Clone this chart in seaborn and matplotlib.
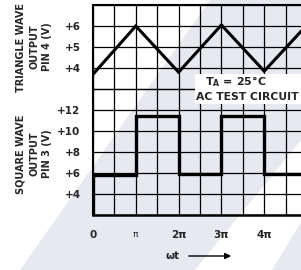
import matplotlib
matplotlib.use("Agg")
import matplotlib.pyplot as plt
from matplotlib import font_manager
from matplotlib.patches import Rectangle, Polygon, FancyArrowPatch
import numpy as np
import seaborn as sns

# time axis in units of pi
tri_x = [0, 1, 2, 3, 4, 5]
tri_y = [3.7, 6.0, 3.8, 6.05, 3.85, 6.05]

sq_edges = [0, 1, 2, 3, 4, 5]
sq_levels = [5.85, 11.4, 5.9, 11.4, 5.9]

x_ticks = [0, 1, 2, 3, 4]
x_labels = ["0", "π", "2π", "3π", "4π"]
tri_ticks = [4, 5, 6]
sq_ticks = [4, 6, 8, 10, 12]

sns.set_style("white")
names = {f.name for f in font_manager.fontManager.ttflist}
narrow = "Liberation Sans Narrow" if "Liberation Sans Narrow" in names else "DejaVu Sans"
plt.rcParams.update({
    "font.family": [narrow, "DejaVu Sans"], "font.weight": "bold", "font.size": 9,
    "mathtext.fontset": "custom", "mathtext.rm": f"{narrow}:bold",
})
FS = 9 if narrow != "DejaVu Sans" else 7.5

W, H = 301, 270
fig = plt.figure(figsize=(W / 100, H / 100), dpi=100)


def px(x0, y0, x1, y1):
    return [x0 / W, 1 - y1 / H, (x1 - x0) / W, (y1 - y0) / H]


def pt(x, y):
    return (x / W, 1 - y / H)


# faint scan watermark behind the chart
for verts in ([(20, 270), (210, 0), (301, 0), (301, 140), (195, 270)],
              [(272, 270), (301, 222), (301, 270)]):
    fig.add_artist(Polygon([pt(*v) for v in verts], closed=True, transform=fig.transFigure,
                           facecolor="#e7e9f1", edgecolor="none", zorder=-5))

ax_t = fig.add_axes(px(93, 5, 307, 89))
ax_s = fig.add_axes(px(93, 89, 307, 215))

for ax in (ax_t, ax_s):
    ax.set_facecolor("none")
    ax.set_xlim(0, 5)
    ax.set_xticks(np.arange(0, 5.01, 0.5))
    ax.grid(True, color="black", linewidth=0.9)
    ax.tick_params(length=0, pad=9, labelsize=FS)
    for s in ax.spines.values():
        s.set_color("black")
    ax.spines["right"].set_visible(False)

ax_t.set_ylim(3, 7)
ax_t.set_yticks([3, 4, 5, 6, 7])
ax_t.set_yticklabels(["" if v not in tri_ticks else f"+{v}" for v in [3, 4, 5, 6, 7]])
ax_t.set_xticklabels([])
ax_t.spines["left"].set_linewidth(1.5)
ax_t.spines["top"].set_linewidth(1.5)
ax_t.spines["bottom"].set_linewidth(0.9)
ax_t.plot(tri_x, tri_y, color="black", linewidth=2.2, solid_joinstyle="miter")

ax_s.set_ylim(2, 14)
ax_s.set_yticks(np.arange(2, 14.1, 2))
ax_s.set_yticklabels(["" if v not in sq_ticks else f"+{v}" for v in np.arange(2, 15, 2)])
ax_s.spines["top"].set_visible(False)
ax_s.spines["left"].set_linewidth(1.5)
ax_s.spines["bottom"].set_linewidth(1.8)
ax_s.stairs(sq_levels, sq_edges, color="black", linewidth=2.4)
labels = []
for v in np.arange(0, 5.01, 0.5):
    labels.append(x_labels[int(v)] if v in x_ticks else "")
ax_s.set_xticklabels(labels, fontsize=FS)
ax_s.tick_params(axis="x", pad=11)
for lab in ax_s.get_xticklabels():
    if lab.get_text() == "π":
        lab.set_fontweight("normal")
        lab.set_fontsize(FS - 1)

fig.text(34 / W, 1 - 47 / H, "TRIANGLE WAVE\nOUTPUT\nPIN 4 (V)", rotation=90,
         ha="center", va="center", multialignment="center", fontsize=FS - 0.5, linespacing=1.4)
fig.text(34 / W, 1 - 154 / H, "SQUARE WAVE\nOUTPUT\nPIN 3 (V)", rotation=90,
         ha="center", va="center", multialignment="center", fontsize=FS - 0.5, linespacing=1.4)

fig.add_artist(Rectangle(pt(195, 104), 106 / W, 30 / H, transform=fig.transFigure,
                         facecolor="white", edgecolor="none", zorder=3))
fig.text(205 / W, 1 - 82 / H, r"T$_{\rm A}$ = 25°C", ha="left", va="center", fontsize=FS + 0.5, zorder=4)
fig.text(196 / W, 1 - 97 / H, "AC TEST CIRCUIT", ha="left", va="center", fontsize=FS + 0.3, zorder=4)

fig.text(173 / W, 1 - 256 / H, "ωt", ha="center", va="center", fontsize=FS)
fig.add_artist(FancyArrowPatch(pt(186, 256), pt(234, 256), transform=fig.transFigure,
                               arrowstyle="-|>", mutation_scale=9, color="black", linewidth=1.0))

fig.savefig("out.png", dpi=100, facecolor="white")
